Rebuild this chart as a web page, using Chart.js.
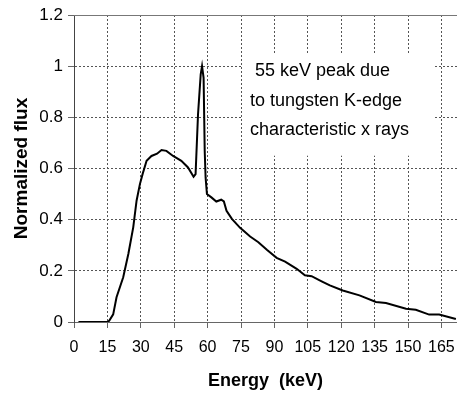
<!DOCTYPE html>
<html>
<head>
<meta charset="utf-8">
<script src="https://cdn.jsdelivr.net/npm/chart.js@4"></script>
<style>
  html, body { margin: 0; padding: 0; background: #fff; }
  #box { width: 457px; height: 400px; }
</style>
</head>
<body>
<div id="box"><canvas id="myChart"></canvas></div>
<script>
// spectrum
var energy = [2, 15, 15.8, 17.6, 19.1, 22.1, 24.4, 26.6, 28.1, 29.6, 30.8, 32.6, 34.8, 37.3,
  39.3, 41.5, 44.5, 48.2, 51.2, 53.7, 54.6, 55.7, 56.9, 57.5, 58.2, 58.7, 59.1, 59.7,
  61.7, 63.9, 66.1, 67.3, 68.5, 70.9, 74.6, 79.1, 82.8, 86.6, 91, 94.8, 100, 103.7,
  106.7, 111.2, 114.9, 120.7, 128.2, 135.6, 140.1, 149.1, 153.5, 159.5, 164, 171.5];
var flux = [0, 0, 0.005, 0.03, 0.097, 0.175, 0.266, 0.37, 0.474, 0.539, 0.578, 0.63, 0.649, 0.658,
  0.672, 0.669, 0.649, 0.63, 0.604, 0.568, 0.578, 0.812, 0.968, 1.0, 0.954, 0.669, 0.565, 0.5,
  0.487, 0.471, 0.478, 0.471, 0.435, 0.403, 0.368, 0.334, 0.312, 0.282, 0.251, 0.236, 0.208, 0.183,
  0.179, 0.159, 0.143, 0.123, 0.104, 0.078, 0.074, 0.052, 0.048, 0.029, 0.029, 0.012];

var xTicks = [0, 15, 30, 45, 60, 75, 90, 105, 120, 135, 150, 165];
var yTicks = [0, 0.2, 0.4, 0.6, 0.8, 1, 1.2];
var yTickLabels = ["0", "0.2", "0.4", "0.6", "0.8", "1", "1.2"];
var noteLines = [" 55 keV peak due", "to tungsten K-edge", "characteristic x rays"];

var FONT = "'Liberation Sans', Arial, sans-serif";

var points = energy.map(function (e, i) { return { x: e, y: flux[i] }; });

// white note box + solid top frame line
var notePlugin = {
  id: "note",
  beforeDatasetsDraw: function (chart) {
    var ctx = chart.ctx, a = chart.chartArea;
    ctx.save();
    ctx.strokeStyle = "#777";
    ctx.lineWidth = 1;
    ctx.beginPath();
    ctx.moveTo(a.left, a.top + 0.5);
    ctx.lineTo(a.right, a.top + 0.5);
    ctx.stroke();

    var xs = chart.scales.x, ys = chart.scales.y;
    var x0 = xs.getPixelForValue(75.5), x1 = xs.getPixelForValue(162);
    var y0 = ys.getPixelForValue(1.05), y1 = ys.getPixelForValue(0.65);
    ctx.fillStyle = "#fff";
    ctx.fillRect(x0, y0, x1 - x0, y1 - y0);

    ctx.fillStyle = "#000";
    ctx.font = "18px " + FONT;
    ctx.textAlign = "left";
    ctx.textBaseline = "alphabetic";
    var tx = xs.getPixelForValue(79);
    noteLines.forEach(function (t, i) {
      ctx.fillText(t, tx, y0 + 23 + i * 29.5);
    });
    ctx.restore();
  }
};

new Chart("myChart", {
  type: "line",
  data: {
    datasets: [{
      data: points,
      borderColor: "#000",
      borderWidth: 2,
      pointRadius: 0,
      tension: 0,
      fill: false
    }]
  },
  options: {
    responsive: true,
    maintainAspectRatio: false,
    animation: false,
    layout: { padding: { top: 15, right: 0, left: 0, bottom: 0 } },
    plugins: { legend: { display: false }, tooltip: { enabled: false } },
    scales: {
      x: {
        type: "linear",
        min: 0,
        max: 172,
        afterBuildTicks: function (s) { s.ticks = xTicks.map(function (v) { return { value: v }; }); },
        afterFit: function (s) { s.height = 78; s.paddingRight = 0; s.paddingLeft = 0; },
        grid: { color: "#555", tickColor: "#666", tickLength: 6, tickBorderDash: [] },
        border: { color: "#666", width: 1, dash: [2, 2] },
        ticks: { color: "#000", font: { family: FONT, size: 16 }, padding: 10, maxRotation: 0 },
        title: {
          display: true,
          text: "Energy  (keV)",
          color: "#000",
          font: { family: FONT, size: 18, weight: "bold" },
          padding: { top: 0, bottom: 8 }
        }
      },
      y: {
        min: 0,
        max: 1.2,
        afterBuildTicks: function (s) { s.ticks = yTicks.map(function (v) { return { value: v }; }); },
        afterFit: function (s) { s.width = 74; s.paddingTop = 0; s.paddingBottom = 0; },
        grid: { color: "#555", tickColor: "#666", tickLength: 6, tickBorderDash: [] },
        border: { color: "#444", width: 1, dash: [2, 2] },
        ticks: {
          color: "#000",
          font: { family: FONT, size: 17 },
          padding: 5,
          callback: function (v, i) { return yTickLabels[i]; }
        },
        title: {
          display: true,
          text: "Normalized flux",
          color: "#000",
          font: { family: FONT, size: 19, weight: "bold" },
          padding: { top: 10, bottom: 0 }
        }
      }
    }
  },
  plugins: [notePlugin]
});
</script>
</body>
</html>
